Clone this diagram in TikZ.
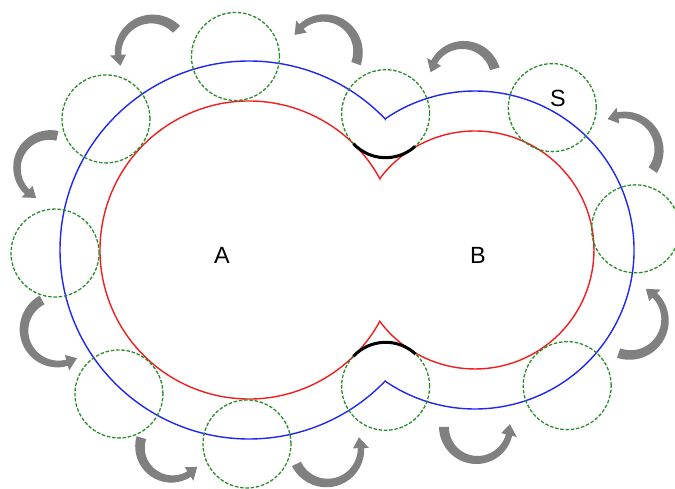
\documentclass[tikz,border=0pt]{standalone}
\usepackage{fontspec}
\setmainfont{Liberation Sans}
\usetikzlibrary{calc}
\definecolor{redc}{RGB}{240,30,30}
\definecolor{bluec}{RGB}{30,40,240}
\definecolor{greenc}{RGB}{40,140,40}
\definecolor{arrgray}{RGB}{128,128,128}
\newcommand{\curvedarrow}[5]{%
  \pgfmathsetmacro{\hbang}{#5 - 11/#3*57.2958}%
  \fill[arrgray]
    plot[domain=#4:\hbang, samples=30, variable=\t]
      ({#1+(#3+5-1.8*(\t-#4)/(\hbang-#4))*cos(\t)}, {#2+(#3+5-1.8*(\t-#4)/(\hbang-#4))*sin(\t)})
    -- ({#1+(#3+8)*cos(\hbang)}, {#2+(#3+8)*sin(\hbang)})
    -- ({#1+#3*cos(#5)}, {#2+#3*sin(#5)})
    -- ({#1+(#3-8)*cos(\hbang)}, {#2+(#3-8)*sin(\hbang)})
    -- plot[domain=\hbang:#4, samples=30, variable=\t]
      ({#1+(#3-5+1.8*(\t-#4)/(\hbang-#4))*cos(\t)}, {#2+(#3-5+1.8*(\t-#4)/(\hbang-#4))*sin(\t)})
    -- cycle;}
\tikzset{
  redline/.style={draw=redc, line width=1.2pt},
  blueline/.style={draw=bluec, line width=1.2pt},
  gcirc/.style={circle, draw=greenc, line width=1.1pt, dash pattern=on 3pt off 1.5pt, minimum size=2.64cm, inner sep=0pt},
  blackarc/.style={draw=black, line width=2.6pt},
  lbl/.style={font=\fontsize{20}{24}\selectfont, text=black, inner sep=0pt}
}
\begin{document}
\begin{tikzpicture}[x=0.03cm, y=0.03cm]
\useasboundingbox (0,0) rectangle (675,489);
\coordinate (A) at (249,239);
\coordinate (B) at (475,239);
% red union of circles
\draw[redline] ($(A)+(28.63:149)$) arc[start angle=28.63, end angle=331.37, radius=149]
  arc[start angle=216.87, end angle=503.13, radius=119] -- cycle;
% blue offset curve
\draw[blueline] ($(A)+(43.93:189)$) arc[start angle=43.93, end angle=316.07, radius=189]
  arc[start angle=235.56, end angle=484.44, radius=159] -- cycle;
% green rolling circles
\node[gcirc] (g1) at ($(A)+(94:194)$) {};
\node[gcirc] (g2) at ($(A)+(137.5:194)$) {};
\node[gcirc] (g3) at ($(A)+(180.9:194)$) {};
\node[gcirc] (g4) at ($(A)+(227.9:194)$) {};
\node[gcirc] (g5) at ($(A)+(269.4:194)$) {};
\node[gcirc] (g6) at (385.6,102.7) {};
\node[gcirc] (g7) at ($(B)+(304.2:164)$) {};
\node[gcirc] (g8) at ($(B)+(7.5:162)$) {};
\node[gcirc] (g9) at ($(B)+(61.5:162)$) {};
\node[gcirc] (g10) at (385.6,375.3) {};
% black arcs
\draw[blackarc] ($(g10)+(223:44)$) arc[start angle=223, end angle=312, radius=44];
\draw[blackarc] ($(g6)+(47:44)$) arc[start angle=47, end angle=137, radius=44];
% labels
\node[lbl] (la) at (222,234) {A};
\node[lbl] (lb) at (478,234) {B};
\node[lbl] (ls) at (558,391) {S};
% curved arrows
\curvedarrow{324}{437}{34}{-20}{150}
\curvedarrow{152}{436}{34}{44}{202}
\curvedarrow{50}{321}{33}{77}{245}
\curvedarrow{58}{159}{34}{118}{304}
\curvedarrow{172}{42}{32}{163}{322}
\curvedarrow{327}{40}{34}{206}{380}
\curvedarrow{477}{62}{33}{180}{365}
\curvedarrow{630}{169}{35}{251}{423}
\curvedarrow{624}{339}{35}{-35}{118}
\curvedarrow{463}{411}{33}{16}{170}
\end{tikzpicture}
\end{document}
